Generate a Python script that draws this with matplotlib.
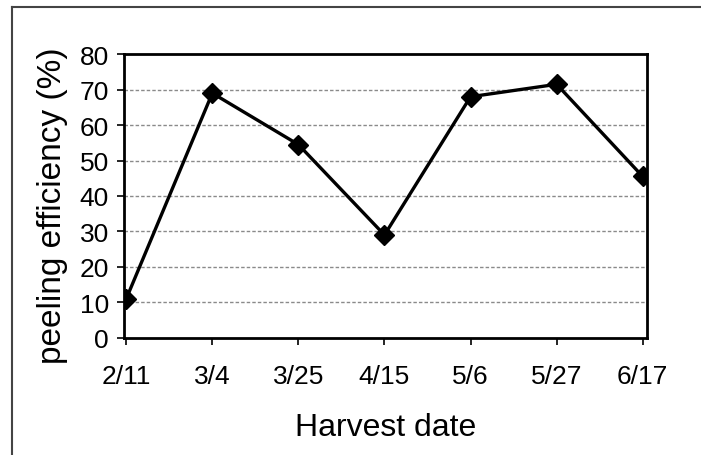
import matplotlib
matplotlib.use("Agg")
import matplotlib.pyplot as plt
from matplotlib.lines import Line2D

dates = ["2/11", "3/4", "3/25", "4/15", "5/6", "5/27", "6/17"]
efficiency = [11, 69, 54.5, 29, 68, 71.5, 45.5]
yticks = [0, 10, 20, 30, 40, 50, 60, 70, 80]

plt.rcParams['font.family'] = ['Liberation Sans', 'DejaVu Sans']

fig = plt.figure(figsize=(7.01, 4.56), dpi=100)
ax = fig.add_axes([0.177, 0.257, 0.746, 0.622])

x = list(range(len(dates)))
ax.plot(x, efficiency, color='black', lw=2.4, marker='D', ms=10,
        markerfacecolor='black', markeredgecolor='black', zorder=3)

ax.set_xlim(-0.025, 6.05)
ax.set_ylim(0, 80)
ax.set_xticks(x)
ax.set_xticklabels(dates)
ax.set_yticks(yticks)
ax.tick_params(axis='both', labelsize=19, direction='out', length=5, width=1.2, color='black')
ax.tick_params(axis='x', pad=14)
ax.tick_params(axis='y', pad=6)
for t in yticks[1:-1]:
    ax.axhline(t, color='#8a8a8a', lw=1.0, ls=(0, (2.5, 1.5)), zorder=1)
for s in ax.spines.values():
    s.set_linewidth(2.0)
    s.set_color('black')

ax.set_xlabel("Harvest date", fontsize=23, labelpad=17)
ax.set_ylabel("peeling efficiency (%)", fontsize=24, labelpad=8, y=0.47)

fig.add_artist(Line2D([12/701, 1.0], [1 - 8/456, 1 - 8/456], transform=fig.transFigure,
                      color='#444444', lw=1.5))
fig.add_artist(Line2D([12/701, 12/701], [1 - 8/456, 0.0], transform=fig.transFigure,
                      color='#444444', lw=1.5))

fig.savefig("out.png", dpi=100)
